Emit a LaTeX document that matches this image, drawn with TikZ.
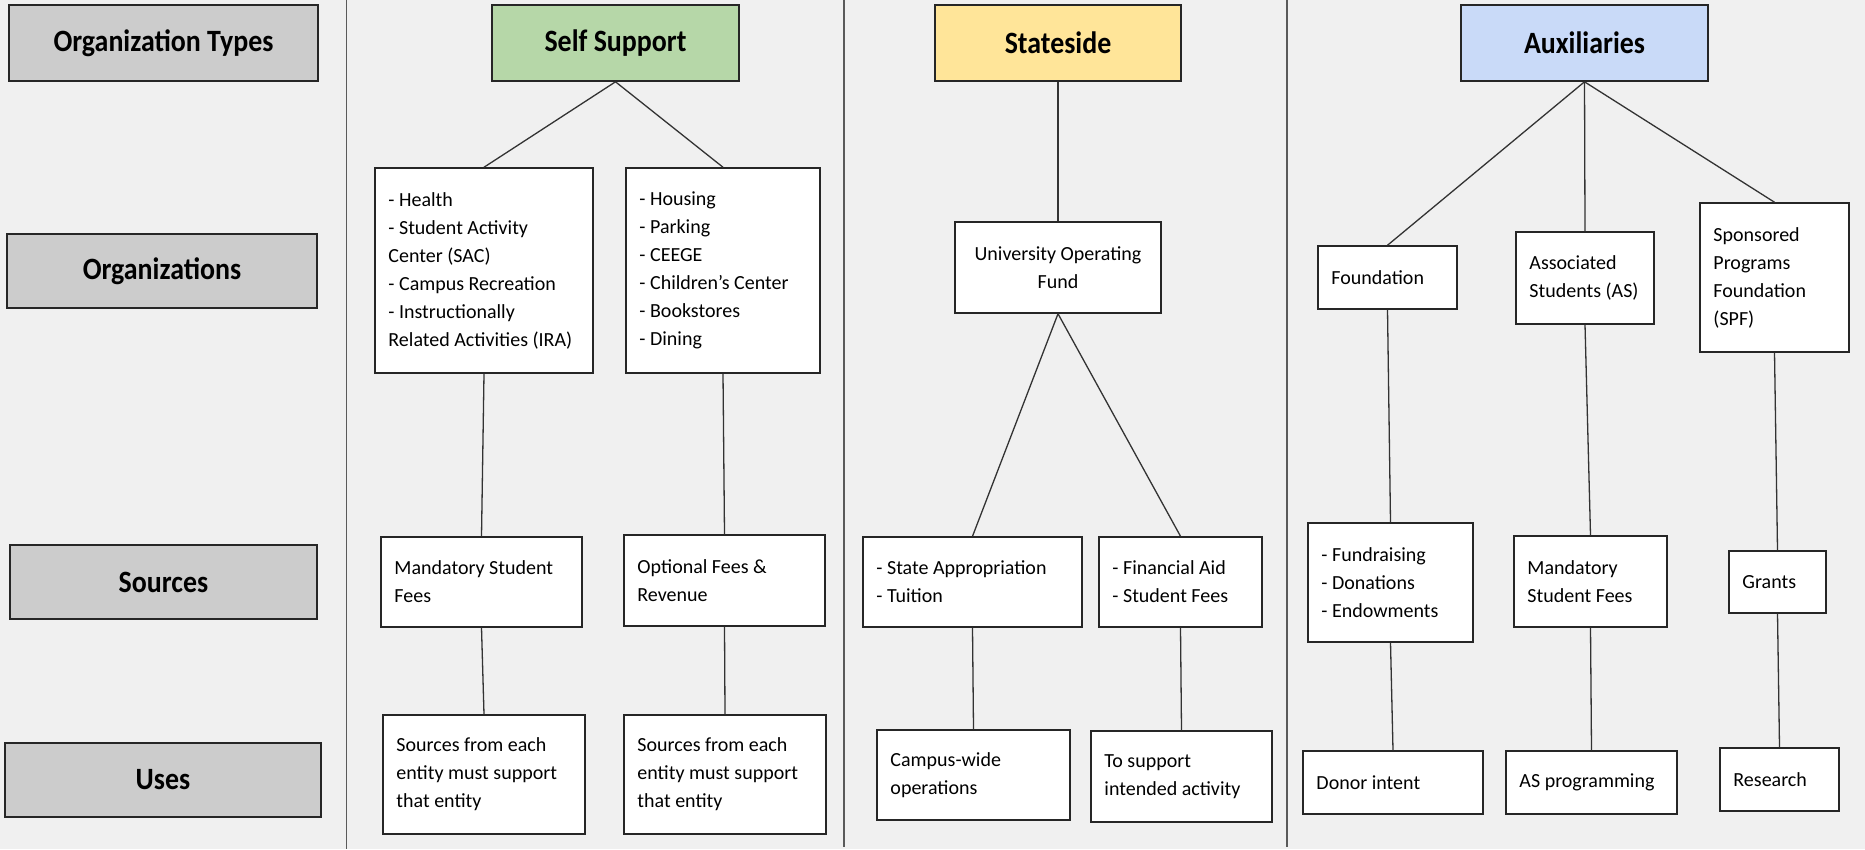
\documentclass[tikz,border=0pt]{standalone}
\usepackage{fontspec}
\setmainfont{Carlito}
\newfontfamily\hdfont[FakeStretch=0.9]{Carlito}
\definecolor{bgc}{HTML}{F0F0F0}
\definecolor{grayc}{HTML}{CCCCCC}
\definecolor{greenc}{HTML}{B6D7A8}
\definecolor{yellowc}{HTML}{FFE599}
\definecolor{bluec}{HTML}{C9DAF8}
\definecolor{linec}{HTML}{333333}
\definecolor{divc}{HTML}{5A5A5A}
% centred box: name, x1, y1, x2, y2, style, text
\newcommand\cbx[7]{%
  \pgfmathsetmacro\mybw{#4-#2}\pgfmathsetmacro\mybh{#5-#3}%
  \pgfmathsetmacro\mycx{(#2+#4)/2}\pgfmathsetmacro\mycy{(#3+#5)/2}%
  \node[#6, minimum width=\mybw pt, minimum height=\mybh pt] (#1) at (\mycx,\mycy) {#7};}
% box with left-aligned text
\newcommand\bx[7]{%
  \pgfmathsetmacro\mybw{#4-#2}\pgfmathsetmacro\mybh{#5-#3}%
  \pgfmathsetmacro\mycx{(#2+#4)/2}\pgfmathsetmacro\mycy{(#3+#5)/2}%
  \node[#6, minimum width=\mybw pt, minimum height=\mybh pt] (#1) at (\mycx,\mycy) {};
  \node[boxtext, anchor=west] (#1-t) at ([xshift=14pt]#1.west) {#7};}
\tikzset{
  hdbox/.style={draw=black!85, line width=1.6pt, inner sep=0pt, align=center,
    font=\hdfont\bfseries\fontsize{31}{36}\selectfont},
  graybox/.style={hdbox, fill=grayc},
  wbox/.style={draw=black!85, line width=1.5pt, fill=white, inner sep=0pt},
  cbox/.style={wbox, align=center, font=\fontsize{20}{28}\selectfont},
  boxtext/.style={inner sep=0pt, align=left, font=\fontsize{20}{28}\selectfont},
  conn/.style={draw=linec, line width=1.3pt},
  divider/.style={draw=divc, line width=1.4pt}
}
\begin{document}
\begin{tikzpicture}[x=1pt,y=-1pt]
\fill[bgc] (0,0) rectangle (1865,849);
\useasboundingbox (0,0) rectangle (1865,849);
% dividers
\coordinate (d1t) at (346.5,0); \coordinate (d1b) at (346.5,849);
\coordinate (d2t) at (844,0); \coordinate (d2b) at (844,847);
\coordinate (d3t) at (1287,0); \coordinate (d3b) at (1287,847);
\draw[divider] (d1t) -- (d1b);
\draw[divider] (d2t) -- (d2b);
\draw[divider] (d3t) -- (d3b);
% row headers
\cbx{ot}{9}{5}{318}{81}{graybox}{Organization Types}
\cbx{orgs}{7}{234}{317}{308}{graybox}{Organizations}
\cbx{src}{10}{545}{317}{619}{graybox}{Sources}
\cbx{uses}{5}{743}{321}{817}{graybox}{Uses}
% type boxes
\cbx{ss}{492}{5}{739}{81}{hdbox,fill=greenc}{Self Support}
\cbx{st}{935}{5}{1181}{81}{hdbox,fill=yellowc}{Stateside}
\cbx{aux}{1461}{5}{1708}{81}{hdbox,fill=bluec}{Auxiliaries}
% organizations
\bx{health}{375}{168}{593}{373}{wbox}{- Health\\- Student Activity\\Center (SAC)\\- Campus Recreation\\- Instructionally\\Related Activities (IRA)}
\bx{housing}{626}{168}{820}{373}{wbox}{- Housing\\- Parking\\- CEEGE\\- Children’s Center\\- Bookstores\\- Dining}
\cbx{uof}{955}{222}{1161}{313}{cbox}{University Operating\\Fund}
\bx{found}{1318}{246}{1457}{309}{wbox}{Foundation}
\bx{as}{1516}{232}{1654}{324}{wbox}{Associated\\Students (AS)}
\bx{spf}{1700}{203}{1849}{352}{wbox}{Sponsored\\Programs\\Foundation\\(SPF)}
% sources
\bx{msf}{381}{537}{582}{627}{wbox}{Mandatory Student\\Fees}
\bx{opt}{624}{535}{825}{626}{wbox}{Optional Fees \&\\Revenue}
\bx{sapp}{863}{537}{1082}{627}{wbox}{- State Appropriation\\- Tuition}
\bx{fin}{1099}{537}{1262}{627}{wbox}{- Financial Aid\\- Student Fees}
\bx{fund}{1308}{523}{1473}{642}{wbox}{- Fundraising\\- Donations\\- Endowments}
\bx{asm}{1514}{536}{1667}{627}{wbox}{Mandatory\\Student Fees}
\bx{grants}{1729}{551}{1826}{613}{wbox}{Grants}
% uses
\bx{use1}{383}{715}{585}{834}{wbox}{Sources from each\\entity must support\\that entity}
\bx{use2}{624}{715}{826}{834}{wbox}{Sources from each\\entity must support\\that entity}
\bx{campus}{877}{730}{1070}{820}{wbox}{Campus-wide\\operations}
\bx{tosup}{1091}{731}{1272}{822}{wbox}{To support\\intended activity}
\bx{donor}{1303}{751}{1483}{814}{wbox}{Donor intent}
\bx{asprog}{1506}{751}{1677}{814}{wbox}{AS programming}
\bx{research}{1720}{748}{1839}{811}{wbox}{Research}
% connectors
\draw[conn] (ss.south) -- (health.north);
\draw[conn] (ss.south) -- (housing.north);
\draw[conn] (health.south) -- (msf.north);
\draw[conn] (msf.south) -- (use1.north);
\draw[conn] (housing.south) -- (opt.north);
\draw[conn] (opt.south) -- (use2.north);
\draw[conn] (st.south) -- (uof.north);
\draw[conn] (uof.south) -- (sapp.north);
\draw[conn] (uof.south) -- (fin.north);
\draw[conn] (sapp.south) -- (campus.north);
\draw[conn] (fin.south) -- (tosup.north);
\draw[conn] (aux.south) -- (found.north);
\draw[conn] (aux.south) -- (as.north);
\draw[conn] (aux.south) -- (spf.north);
\draw[conn] (found.south) -- (fund.north);
\draw[conn] (fund.south) -- (donor.north);
\draw[conn] (as.south) -- (asm.north);
\draw[conn] (asm.south) -- (asprog.north);
\draw[conn] (spf.south) -- (grants.north);
\draw[conn] (grants.south) -- (research.north);
\end{tikzpicture}
\end{document}
